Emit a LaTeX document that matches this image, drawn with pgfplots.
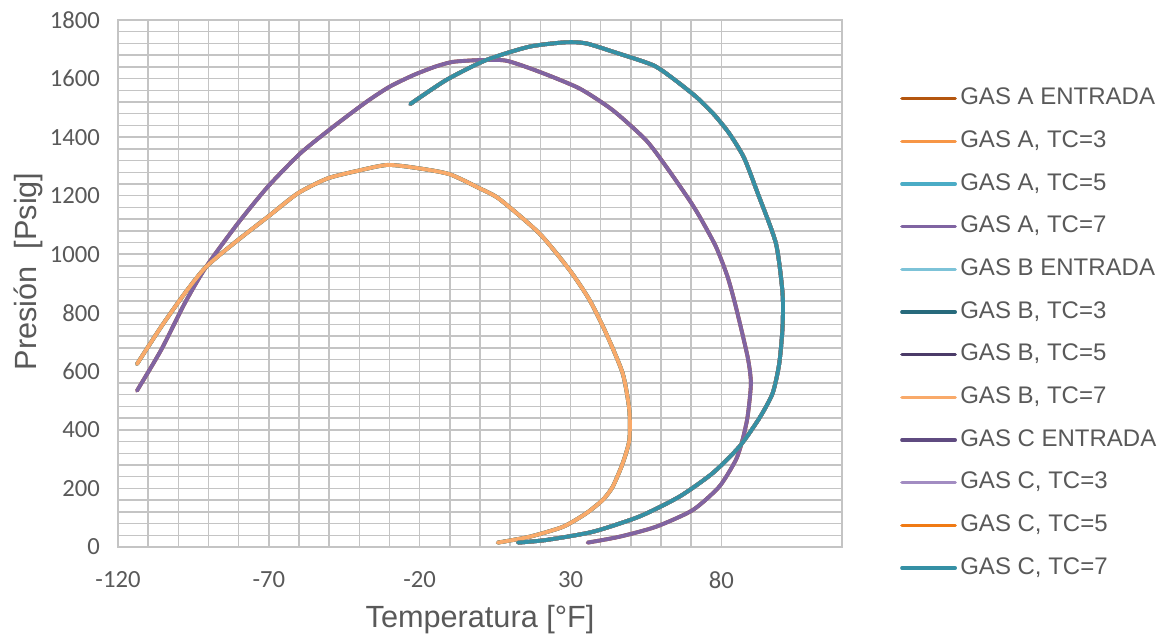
\documentclass[border=0pt]{standalone}
\usepackage{fontspec}
\setmainfont{Liberation Sans}
\newfontfamily\calibri{Carlito}
\usepackage{pgfplots}
\usepackage{pgfplotstable}
\pgfplotsset{compat=1.18}

\definecolor{gridgray}{HTML}{C4C4C4}
\definecolor{txtgray}{HTML}{595959}
\definecolor{gAent}{HTML}{B4560F}
\definecolor{gAtc3}{HTML}{F79646}
\definecolor{gAtc5}{HTML}{4BACC6}
\definecolor{gAtc7}{HTML}{8064A2}
\definecolor{gBent}{HTML}{7DC3D8}
\definecolor{gBtc3}{HTML}{276A7C}
\definecolor{gBtc5}{HTML}{4B3B68}
\definecolor{gBtc7}{HTML}{F9AA6A}
\definecolor{gCent}{HTML}{5F4B80}
\definecolor{gCtc3}{HTML}{A28CC2}
\definecolor{gCtc5}{HTML}{F07A14}
\definecolor{gCtc7}{HTML}{3590A5}

% small envelope
\pgfplotstableread{
x y
-113.7 625
-105.7 752
-97.9 866
-90.8 957
-80.3 1048
-70.3 1128
-60.4 1208
-50.5 1259
-40.5 1285
-30.6 1305
-20 1293
-10 1273
-0.1 1225
6.5 1188
19.7 1071
29.7 946
36.3 844
41.8 730
47.3 593
49.5 468
49.5 365
47.3 286
44 206
40.7 161
35.2 115
27.5 69
16.4 35
5.9 15
}\smallenv

% purple envelope
\pgfplotstableread{
x y
-113.7 534
-105.7 673
-97.9 832
-90.8 957
-80.3 1105
-70.3 1231
-59.5 1345
-48.7 1435
-37.7 1520
-30 1572
-22 1612
-15 1640
-9 1657
0 1663
8.7 1661
19.7 1623
33 1566
44 1492
55 1390
62 1295
69.4 1185
73 1125
78.2 1026
82 925
84.8 821
88.7 650
89.8 559
88.7 445
87 365
84.8 297
79.3 206
70.5 126
58.3 69
46.2 35
35.7 15
}\midenv

% large envelope
\pgfplotstableread{
x y
-23.1 1513
-11.2 1595
2 1663
16.4 1709
28.6 1724
35.2 1720
44 1692
57.3 1646
64 1600
71.6 1538
77.5 1478
82.6 1413
87.5 1330
92 1210
98.1 1037
100.3 866
100.3 752
99.2 627
97 525
92.6 440
86 343
77.1 252
66.1 172
52.8 104
37.4 52
22 24
12.6 15
}\bigenv

\begin{document}
\begin{tikzpicture}
\path[use as bounding box] (0,0) rectangle (876pt,477.75pt);
\begin{axis}[
    at={(88.5pt,67.5pt)}, anchor=south west,
    scale only axis,
    width=543pt, height=395.25pt,
    xmin=-120, xmax=120, ymin=0, ymax=1800,
    xtick={-120,-70,-20,30,80},
    ytick={0,200,...,1800},
    minor x tick num=4,
    minor y tick num=4,
    grid=both,
    grid style={draw=gridgray, line width=1.1pt},
    major grid style={draw=gridgray, line width=1.1pt},
    minor grid style={draw=gridgray, line width=1.1pt},
    axis line style={draw=gridgray, line width=1.1pt},
    major tick length=0pt, minor tick length=0pt,
    /pgf/number format/assume math mode=true,
    /pgf/number format/1000 sep={},
    ticklabel style={font=\calibri\fontsize{18.5}{18.5}\selectfont, text=txtgray},
    xticklabel style={yshift=-15pt},
    yticklabel style={xshift=-10pt},
    xlabel={Temperatura [°F]},
    ylabel={Presión\ \ [Psig]},
    label style={font=\fontsize{23}{23}\selectfont, text=txtgray},
    xlabel style={at={(axis description cs:0.5,-0.1385)}, anchor=center},
    ylabel style={at={(axis description cs:-0.124,0.523)}, anchor=center},
    legend style={at={(axis description cs:1.080,0.879)}, anchor=north west,
        draw=none, fill=none, inner sep=0pt,
        font=\fontsize{18}{18}\selectfont, text=txtgray,
        row sep=10pt,
        nodes={inner sep=2.5pt, text height=13pt, text depth=4pt}},
    legend cell align=left,
    legend image code/.code={\draw[#1, line width=2.6pt] (0pt,0pt) -- (40pt,0pt);},
    every axis plot/.append style={smooth, tension=0.4, line width=2.9pt, line join=round, line cap=round},
]
\addplot[gAent] table {\midenv};
\addlegendentry{GAS A ENTRADA}
\addplot[gAtc3] table {\smallenv};
\addlegendentry{GAS A, TC=3}
\addplot[gAtc5] table {\smallenv};
\addlegendentry{GAS A, TC=5}
\addplot[gAtc7] table {\midenv};
\addlegendentry{GAS A, TC=7}
\addplot[gBent] table {\bigenv};
\addlegendentry{GAS B ENTRADA}
\addplot[gBtc3] table {\smallenv};
\addlegendentry{GAS B, TC=3}
\addplot[gBtc5] table {\bigenv};
\addlegendentry{GAS B, TC=5}
\addplot[gBtc7] table {\smallenv};
\addlegendentry{GAS B, TC=7}
\addplot[gCent] table {\bigenv};
\addlegendentry{GAS C ENTRADA}
\addplot[gCtc3] table {\bigenv};
\addlegendentry{GAS C, TC=3}
\addplot[gCtc5] table {\bigenv};
\addlegendentry{GAS C, TC=5}
\addplot[gCtc7] table {\bigenv};
\addlegendentry{GAS C, TC=7}
\end{axis}
\end{tikzpicture}
\end{document}
